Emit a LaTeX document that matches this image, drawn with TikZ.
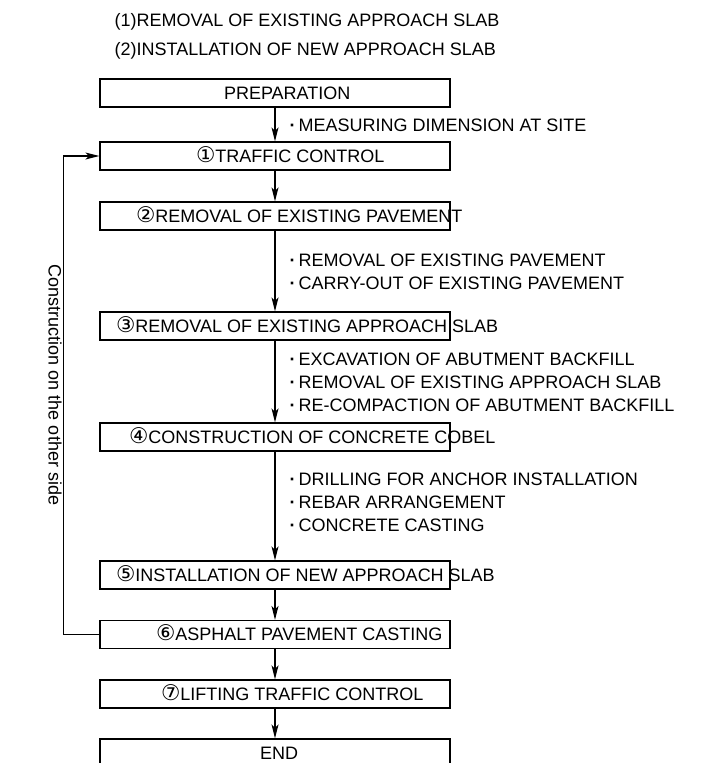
\documentclass[tikz,border=0pt]{standalone}
\usepackage{fontspec}
\setmainfont{Liberation Sans}
\newfontfamily\circfont[Scale=1.2]{DejaVu Sans}
\usepackage{tikz}
\usetikzlibrary{positioning,arrows.meta}
\newcommand{\cnum}[1]{{\circfont #1}}

\begin{document}
\begin{tikzpicture}[x=1pt,y=-1pt,-{Stealth[length=14pt,width=7pt,inset=3.5pt]},on grid,line width=1.2pt,stepbox/.style={rectangle,draw,minimum width=350pt,minimum height=28pt,inner sep=0pt},txt/.style={inner sep=0pt,anchor=base west,font=\fontsize{18}{21.6}\selectfont}]
\useasboundingbox (0,0) rectangle (710,763);
\clip (0,0) rectangle (710,763);
% headings
\node[txt] (h1) at (114,26) {(1)REMOVAL OF EXISTING APPROACH SLAB};
\node[txt] (h2) at (114,55) {(2)INSTALLATION OF NEW APPROACH SLAB};
% steps
\node[stepbox] (prep) at (275,93) {};
\node[stepbox] (tc) [below=63pt of prep] {};
\node[stepbox] (rp) [below=60pt of tc] {};
\node[stepbox] (rs) [below=110pt of rp] {};
\node[stepbox] (cc) [below=111pt of rs] {};
\node[stepbox] (ns) [below=138pt of cc] {};
\node[stepbox] (ap) [below=59.5pt of ns] {};
\node[stepbox] (lt) [below=59.5pt of ap] {};
\node[stepbox] (fin) [below=59pt of lt] {};
\node[txt] (tprep) at ([xshift=124pt,yshift=-6.4pt]prep.west) {PREPARATION};
\node[txt] (ttc) at ([xshift=96pt,yshift=-6.4pt]tc.west) {\cnum{①}TRAFFIC CONTROL};
\node[txt] (trp) at ([xshift=36pt,yshift=-6.4pt]rp.west) {\cnum{②}REMOVAL OF EXISTING PAVEMENT};
\node[txt] (trs) at ([xshift=16pt,yshift=-6.4pt]rs.west) {\cnum{③}REMOVAL OF EXISTING APPROACH SLAB};
\node[txt] (tcc) at ([xshift=29pt,yshift=-6.4pt]cc.west) {\cnum{④}CONSTRUCTION OF CONCRETE COBEL};
\node[txt] (tns) at ([xshift=16pt,yshift=-6.4pt]ns.west) {\cnum{⑤}INSTALLATION OF NEW APPROACH SLAB};
\node[txt] (tap) at ([xshift=56pt,yshift=-6.4pt]ap.west) {\cnum{⑥}ASPHALT PAVEMENT CASTING};
\node[txt] (tlt) at ([xshift=61pt,yshift=-6.4pt]lt.west) {\cnum{⑦}LIFTING TRAFFIC CONTROL};
\node[txt] (tfin) at ([xshift=160pt,yshift=-6.4pt]fin.west) {END};
% works
\node[txt] (n0) at (289,131.5) {\textbf{·}\hspace{3pt}MEASURING DIMENSION AT SITE};
\node[txt] (n1a) at (289,266) {\textbf{·}\hspace{3pt}REMOVAL OF EXISTING PAVEMENT};
\node[txt] (n1b) at (289,289) {\textbf{·}\hspace{3pt}CARRY-OUT OF EXISTING PAVEMENT};
\node[txt] (n2a) at (289,365) {\textbf{·}\hspace{3pt}EXCAVATION OF ABUTMENT BACKFILL};
\node[txt] (n2b) at (289,388) {\textbf{·}\hspace{3pt}REMOVAL OF EXISTING APPROACH SLAB};
\node[txt] (n2c) at (289,411) {\textbf{·}\hspace{3pt}RE-COMPACTION OF ABUTMENT BACKFILL};
\node[txt] (n3a) at (289,485) {\textbf{·}\hspace{3pt}DRILLING FOR ANCHOR INSTALLATION};
\node[txt] (n3b) at (289,508) {\textbf{·}\hspace{3pt}REBAR ARRANGEMENT};
\node[txt] (n3c) at (289,531) {\textbf{·}\hspace{3pt}CONCRETE CASTING};
\node[inner sep=0pt,rotate=-90,font=\fontsize{18}{21.6}\selectfont] (side) at (55,385) {Construction on the other side};
% flow
\draw (prep) -- (tc);
\draw (tc) -- (rp);
\draw (rp) -- (rs);
\draw (rs) -- (cc);
\draw (cc) -- (ns);
\draw (ns) -- (ap);
\draw (ap) -- (lt);
\draw (lt) -- (fin);
\draw (ap.west) -- ++(-36,0) |- (tc.west);
\end{tikzpicture}
\end{document}
